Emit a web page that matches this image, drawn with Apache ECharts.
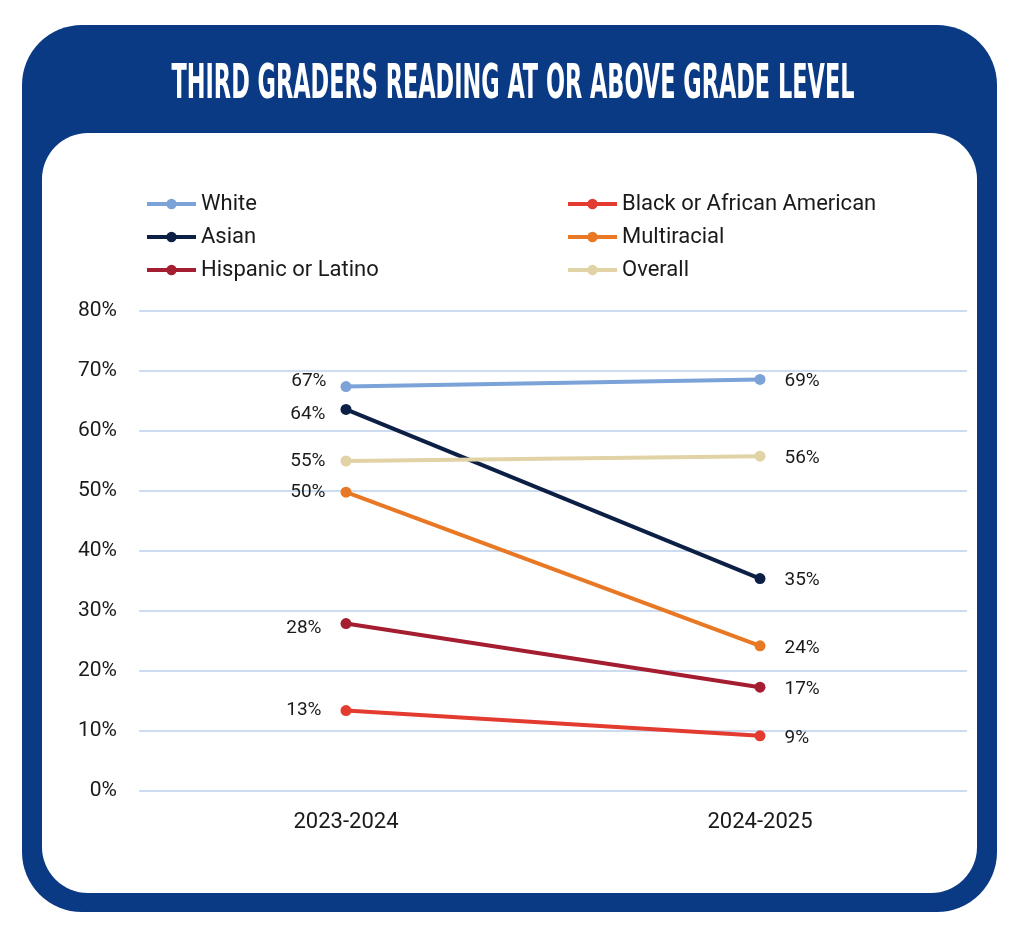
<!DOCTYPE html>
<html>
<head>
<meta charset="utf-8">
<script src="https://cdn.jsdelivr.net/npm/echarts@6/dist/echarts.min.js"></script>
<style>
  html, body { margin: 0; padding: 0; background: #fff; }
  #chart { width: 1025px; height: 938px; }
</style>
</head>
<body>
<div id="chart"></div>
<script>
const titleText = "THIRD GRADERS READING AT OR ABOVE GRADE LEVEL";
const years = ["2023-2024", "2024-2025"];

const white = [67.4, 68.6];
const black = [13.4, 9.2];
const asian = [63.6, 35.4];
const multiracial = [49.8, 24.2];
const hispanic = [27.9, 17.3];
const overall = [55.0, 55.8];

const yTicks = { min: 0, max: 80, step: 10 };

const FONT = "Roboto, 'Noto Sans', sans-serif";
const TITLE_FONT = "bold 48px 'DejaVu Sans Condensed'";

// squeeze the title to the width of the original condensed face
function titleScale(targetWidth) {
  const ctx = document.createElement("canvas").getContext("2d");
  ctx.font = TITLE_FONT;
  return targetWidth / ctx.measureText(titleText).width;
}

function series(name, data, color, leftShift, leftGap) {
  return {
    name,
    type: "line",
    data: data.map((v, i) => ({
      value: v,
      label: i === 0
        ? { position: "left", distance: leftGap, offset: [0, leftShift] }
        : { position: "right", distance: 19, offset: [0, 2] },
    })),
    symbol: "circle",
    symbolSize: 11,
    lineStyle: { width: 4, color },
    itemStyle: { color },
    label: {
      show: true,
      color: "#1a1a1a",
      fontFamily: FONT,
      fontSize: 19,
      formatter: (p) => Math.round(p.value) + "%",
    },
    emphasis: { disabled: true },
  };
}

function legend(left, names) {
  return {
    orient: "vertical",
    left,
    top: 193,
    padding: 0,
    itemWidth: 49,
    itemHeight: 13,
    itemGap: 11,
    data: names,
    lineStyle: { width: 4 },
    textStyle: { fontFamily: FONT, fontSize: 22, color: "#1a1a1a", lineHeight: 22 },
    selectedMode: false,
  };
}

const chart = echarts.init(document.getElementById("chart"), null, { renderer: "canvas" });

chart.setOption({
  backgroundColor: "#ffffff",
  animation: false,
  graphic: [
    {
      type: "rect",
      z: -10,
      shape: { x: 22, y: 25, width: 975, height: 887, r: 60 },
      style: { fill: "#0b3a84" },
    },
    {
      type: "rect",
      z: -9,
      shape: { x: 42, y: 133, width: 935, height: 760, r: 46 },
      style: { fill: "#ffffff" },
    },
    {
      type: "text",
      x: 513,
      y: 86,
      scaleX: titleScale(683),
      style: {
        text: titleText,
        font: TITLE_FONT,
        fill: "#ffffff",
        textAlign: "center",
        textVerticalAlign: "middle",
      },
    },
  ],
  legend: [
    legend(145, ["White", "Asian", "Hispanic or Latino"]),
    legend(566, ["Black or African American", "Multiracial", "Overall"]),
  ],
  grid: { left: 139, right: 58, top: 311, bottom: 147 },
  xAxis: {
    type: "category",
    data: years,
    axisLine: { show: false },
    axisTick: { show: false },
    axisLabel: { fontFamily: FONT, fontSize: 22, color: "#1a1a1a", margin: 20 },
  },
  yAxis: {
    type: "value",
    min: yTicks.min,
    max: yTicks.max,
    interval: yTicks.step,
    axisLabel: {
      fontFamily: FONT,
      fontSize: 21,
      color: "#1a1a1a",
      margin: 22,
      formatter: "{value}%",
    },
    splitLine: { lineStyle: { color: "#cddcf0", width: 2 } },
  },
  series: [
    series("White", white, "#7ba3d8", -5, 14),
    series("Black or African American", black, "#e33b30", 0, 19),
    series("Asian", asian, "#0c1f45", 5, 15),
    series("Multiracial", multiracial, "#e87824", 0, 15),
    series("Hispanic or Latino", hispanic, "#a51d30", 5, 19),
    series("Overall", overall, "#e1d3a6", 0, 15),
  ],
});
</script>
</body>
</html>
